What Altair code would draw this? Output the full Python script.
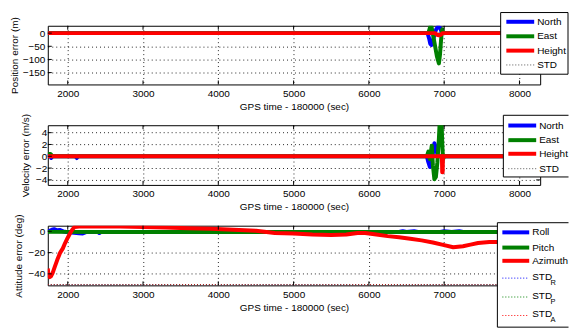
import altair as alt
import pandas as pd

FONT = "Liberation Sans"
BLUE, GREEN, RED, BLACK = "#0000ff", "#008000", "#ff0000", "#000000"

# ---------------- data ----------------
X_DOMAIN = [1735, 8275]
X_TICKS = [2000, 3000, 4000, 5000, 6000, 7000, 8000]
X_TITLE = "GPS time - 180000 (sec)"

# Panel 1: position error
P1_TITLE = "Position error (m)"
P1_DOMAIN = [-195, 28]
P1_TICKS = [0, -50, -100, -150]
P1_NAMES = ["North", "East", "Height", "STD"]
p1_north_t = [1735, 6780, 6800, 6815, 6830, 6850, 6870, 6895, 6920, 6945, 6965, 6985, 8275]
p1_north_v = [0, 0, -20, -40, -45, -30, -5, 15, 25, 20, 5, 0, 0]
p1_east_t = [1735, 6790, 6805, 6820, 6835, 6855, 6880, 6905, 6930, 6945, 6955, 6965, 6975, 6988, 8275]
p1_east_v = [0, 0, 15, 28, 20, -10, -50, -90, -115, -80, -40, -5, 15, 0, 0]
p1_height_t = [1735, 6880, 6905, 6930, 6955, 6980, 8275]
p1_height_v = [0, 0, -6, -8, -6, 0, 0]
p1_std_t = [1735, 8275]
p1_std_v = [0, 0]

# Panel 2: velocity error
P2_TITLE = "Velocity error (m/s)"
P2_DOMAIN = [-4.85, 5.26]
P2_TICKS = [4, 2, 0, -2, -4]
P2_NAMES = ["North", "East", "Height", "STD"]
p2_north_t = [1735, 1760, 1780, 1800, 2100, 2120, 2140, 6770, 6790, 6810, 6830, 6850, 6870, 6890, 6910, 6930, 8275]
p2_north_v = [0, 0.3, -0.3, 0, 0, -0.3, 0, 0, -1.0, -1.8, -1.2, 0.5, 2.2, 1.5, 0.3, 0, 0]
p2_east_t = [1735, 1770, 1800, 6770, 6790, 6810, 6835, 6850, 6870, 6890, 6910, 6930, 6945, 6960, 6975, 6985, 7000, 8275]
p2_east_v = [0.4, 0.4, 0, 0, 0.8, -0.5, 1.8, -1.5, -3.9, -3.5, -1.0, 3.0, 7.0, 8.0, 2.0, -0.5, 0, 0]
p2_height_t = [1735, 6970, 6974, 6980, 6984, 8275]
p2_height_v = [0, 0, -2.7, -2.7, 0, 0]
p2_std_t = [1735, 8275]
p2_std_v = [0, 0]

# Panel 3: attitude error
P3_TITLE = "Attitude error (deg)"
P3_DOMAIN = [-50.8, 5.3]
P3_TICKS = [0, -20, -40]
P3_NAMES = ["Roll", "Pitch", "Azimuth", "STD", "STD", "STD"]
P3_SUBS = ["", "", "", "R", "P", "A"]
p3_roll_t = [1735, 1790, 1820, 1860, 1900, 1940, 1980, 2150, 2200, 2250, 2400, 2420, 2440, 3000,
             6400, 6450, 6500, 6600, 6650, 6700, 6950, 7000, 7100, 7200, 7250, 8275]
p3_roll_v = [-0.3, 1.5, 2.0, 1.0, 1.2, 0, -0.6, -1.8, -2.0, -0.6, -0.6, -1.6, -0.6, -0.6,
             -0.6, 0.2, -0.6, 0.2, -0.6, -0.6, -0.6, 0.2, -0.6, 0.2, -0.6, -0.6]
p3_pitch_t = [1735, 2500, 5000, 8275]
p3_pitch_v = [-0.5, -0.6, -0.6, -0.6]
p3_azim_t = [1735, 1745, 1760, 1780, 1800, 1830, 1860, 1900, 1935, 1965, 2000, 2030, 2060, 2090,
             2150, 2400, 2700, 3000, 3300, 3600, 3900, 4200, 4500, 4750, 5000, 5250, 5500, 5700,
             5850, 5950, 6100, 6250, 6400, 6550, 6700, 6850, 7000, 7120, 7250, 7350, 7450, 7600,
             7750, 8000, 8275]
p3_azim_v = [-35, -42, -43, -42, -39, -33, -27, -20, -16, -11, -6, -2, 1.5, 4,
             4.5, 4.5, 4.5, 4, 3.5, 3, 2.5, 1.5, 0.5, -1.5, -2, -3, -3.5, -3,
             -1.5, -1.5, -3, -4.5, -5.5, -7, -8.5, -10.5, -13, -15, -14, -12.5, -11, -10,
             -10, -10.5, -10]
p3_std_t = [1735, 8275]
p3_std_v = [-50.3, -50.3]

W = 495
DOT = [1, 2]


def panel(series, y_domain, y_ticks, y_title, h, title_x, label_pad, legend):
    xs = alt.Scale(domain=X_DOMAIN, nice=False, zero=False)
    ys = alt.Scale(domain=y_domain, nice=False, zero=False)
    xenc = alt.X("t:Q", scale=xs, axis=alt.Axis(values=X_TICKS, title=X_TITLE, format="d",
                                                labelPadding=4, titlePadding=3))
    yenc = alt.Y("v:Q", scale=ys, axis=alt.Axis(values=y_ticks, title=y_title, format="d",
                                                labelPadding=label_pad, titleX=title_x,
                                                titleY=h / 2, titleBaseline="middle",
                                                titleAlign="center", titleAngle=270))
    layers = []
    for t, v, color, width, dash in series:
        kw = dict(color=color, strokeWidth=width, clip=True, strokeJoin="round")
        if dash:
            kw["strokeDash"] = dash
        layers.append(alt.Chart(pd.DataFrame({"t": t, "v": v})).mark_line(**kw).encode(x=xenc, y=yenc))
    xt = pd.DataFrame({"t": X_TICKS})
    yt = pd.DataFrame({"v": y_ticks})
    layers.append(alt.Chart(xt).mark_rule(color=BLACK, strokeWidth=1).encode(x=xenc, y=alt.value(0), y2=alt.value(4)))
    layers.append(alt.Chart(xt).mark_rule(color=BLACK, strokeWidth=1).encode(x=xenc, y=alt.value(h - 4), y2=alt.value(h)))
    layers.append(alt.Chart(yt).mark_rule(color=BLACK, strokeWidth=1).encode(y=yenc, x=alt.value(0), x2=alt.value(4)))
    layers.append(alt.Chart(yt).mark_rule(color=BLACK, strokeWidth=1).encode(y=yenc, x=alt.value(W - 4), x2=alt.value(W)))

    one = pd.DataFrame({"a": [0]})
    (bx0, bx1, by0, by1, open_right) = legend["box"]
    layers.append(alt.Chart(one).mark_rect(fill="white", strokeWidth=0).encode(
        x=alt.value(bx0), x2=alt.value(bx1), y=alt.value(by0), y2=alt.value(by1)))
    edges = [(bx0, bx0, by0, by1), (bx0, bx1, by0, by0), (bx0, bx1, by1, by1)]
    if not open_right:
        edges.append((bx1, bx1, by0, by1))
    for (ex0, ex1, ey0, ey1) in edges:
        layers.append(alt.Chart(one).mark_rule(color=BLACK, strokeWidth=1).encode(
            x=alt.value(ex0), x2=alt.value(ex1), y=alt.value(ey0), y2=alt.value(ey1)))
    lx0, lx1 = legend["line_x"]
    tx = legend["text_x"]
    for name, sub, ry, (color, width, dash) in zip(legend["names"], legend["subs"], legend["rows"], legend["styles"]):
        kw = dict(color=color, strokeWidth=width)
        if dash:
            kw["strokeDash"] = dash
        layers.append(alt.Chart(one).mark_rule(**kw).encode(
            x=alt.value(lx0), x2=alt.value(lx1), y=alt.value(ry)))
        ty = ry - 1.5 if sub else ry
        layers.append(alt.Chart(one).mark_text(align="left", baseline="middle", font=FONT, fontSize=10,
                                               color=BLACK).encode(
            x=alt.value(tx), y=alt.value(ty), text=alt.value(name)))
        if sub:
            layers.append(alt.Chart(one).mark_text(align="left", baseline="middle", font=FONT, fontSize=7.5,
                                                   color=BLACK).encode(
                x=alt.value(tx + 18.5), y=alt.value(ry + 5), text=alt.value(sub)))
    return alt.layer(*layers).properties(width=W, height=h)


LW = 4
p1 = panel(
    [(p1_std_t, p1_std_v, BLACK, 1, DOT),
     (p1_north_t, p1_north_v, BLUE, LW, None),
     (p1_east_t, p1_east_v, GREEN, LW, None),
     (p1_height_t, p1_height_v, RED, LW, None)],
    P1_DOMAIN, P1_TICKS, P1_TITLE, 59, -33.5, 3,
    dict(box=(455.3, 523, -13.3, 48.7, False), line_x=(461, 489), text_x=492,
         rows=[-4, 10.6, 25, 39.4], names=P1_NAMES, subs=["", "", "", ""],
         styles=[(BLUE, LW, None), (GREEN, LW, None), (RED, LW, None), ("#555555", 1, DOT)]))

p2 = panel(
    [(p2_std_t, p2_std_v, BLACK, 1, DOT),
     (p2_north_t, p2_north_v, BLUE, LW, None),
     (p2_east_t, p2_east_v, GREEN, LW, None),
     (p2_height_t, p2_height_v, RED, LW, None)],
    P2_DOMAIN, P2_TICKS, P2_TITLE, 60, -22.5, 1,
    dict(box=(458, 523.5, -10, 52, True), line_x=(463, 491), text_x=494,
         rows=[0.3, 15, 28.7, 43.7], names=P2_NAMES, subs=["", "", "", ""],
         styles=[(BLUE, LW, None), (GREEN, LW, None), (RED, LW, None), ("#555555", 1, DOT)]))

p3 = panel(
    [(p3_std_t, p3_std_v, BLUE, 1, DOT),
     (p3_std_t, p3_std_v, GREEN, 1, DOT),
     (p3_std_t, p3_std_v, RED, 1, DOT),
     (p3_roll_t, p3_roll_v, BLUE, LW, None),
     (p3_pitch_t, p3_pitch_v, GREEN, LW, None),
     (p3_azim_t, p3_azim_v, RED, LW, None)],
    P3_DOMAIN, P3_TICKS, P3_TITLE, 60, -29, 3,
    dict(box=(452, 523.5, -3, 102, True), line_x=(457, 484), text_x=487,
         rows=[6.7, 22, 35.3, 52.7, 71.7, 90.3], names=P3_NAMES, subs=P3_SUBS,
         styles=[(BLUE, LW, None), (GREEN, LW, None), (RED, LW, None),
                 (BLUE, 1, DOT), (GREEN, 1, DOT), (RED, 1, DOT)]))

chart = alt.vconcat(p1, p2, p3, spacing=41, bounds="flush").properties(
    padding={"left": 0, "top": 2, "right": 0, "bottom": 0}
).configure_view(stroke=BLACK, strokeWidth=1).configure_axis(
    grid=True, gridColor=BLACK, gridDash=[1, 3], gridOpacity=0.85, gridWidth=1,
    ticks=False, domain=False, zindex=0,
    labelFont=FONT, labelFontSize=10, labelColor=BLACK,
    titleFont=FONT, titleFontSize=10, titleFontWeight="normal", titleColor=BLACK,
)

chart.save("out.html", embed_options={"renderer": "svg", "actions": False})
